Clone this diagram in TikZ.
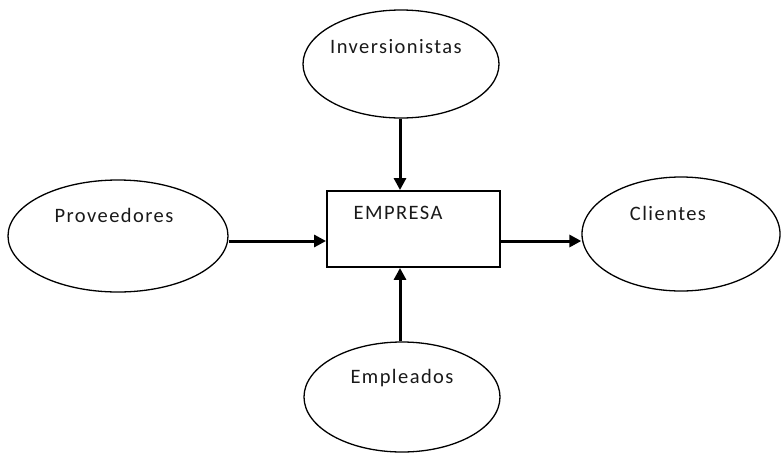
\documentclass[tikz,border=0pt]{standalone}
\usepackage{fontspec}
\setmainfont{Carlito}
\newfontfamily\lblfont[LetterSpace=7]{Carlito}
\usetikzlibrary{shapes.geometric,arrows.meta}
\begin{document}
\begin{tikzpicture}[x=1pt,y=-1pt,
  ell/.style={draw=black,line width=1.3pt,ellipse,inner sep=0pt},
  lbl/.style={font=\lblfont\fontsize{20.5}{24}\selectfont,inner sep=0pt,text=black!90},
  arr/.style={line width=3pt,-{Triangle[length=12pt,width=12pt]}},
  box/.style={draw=black,line width=1.9pt,inner sep=0pt}]
\useasboundingbox (0,0) rectangle (783,453);
\node[ell,minimum width=196pt,minimum height=108pt] (inv) at (401,64) {};
\node[ell,minimum width=220pt,minimum height=112pt] (prov) at (118,236) {};
\node[ell,minimum width=198pt,minimum height=114pt] (cli) at (681,234) {};
\node[ell,minimum width=196pt,minimum height=110pt] (emp) at (402,397) {};
\node[box,minimum width=173pt,minimum height=76pt] (emb) at (413.5,229) {};
\node[lbl] (tinv) at (396,47) {Inversionistas};
\node[lbl] (tprov) at (114,215) {Proveedores};
\node[lbl] (tcli) at (668,213) {Clientes};
\node[lbl] (temp) at (402,378) {Empleados};
\node[lbl] (temb) at (398,213) {EMPRESA};
\coordinate (pa) at (prov.east |- 0,241);
\coordinate (pb) at (emb.west |- 0,241);
\coordinate (ca) at (emb.east |- 0,241);
\coordinate (cb) at (cli.west |- 0,241);
\coordinate (ia) at (inv.south -| 400,0);
\coordinate (ib) at (emb.north -| 400,0);
\coordinate (ea) at (emp.north -| 400,0);
\coordinate (eb) at (emb.south -| 400,0);
\draw[arr] (pa) -- (pb);
\draw[arr] (ca) -- (cb);
\draw[arr] (ia) -- (ib);
\draw[arr] (ea) -- (eb);
\end{tikzpicture}
\end{document}
